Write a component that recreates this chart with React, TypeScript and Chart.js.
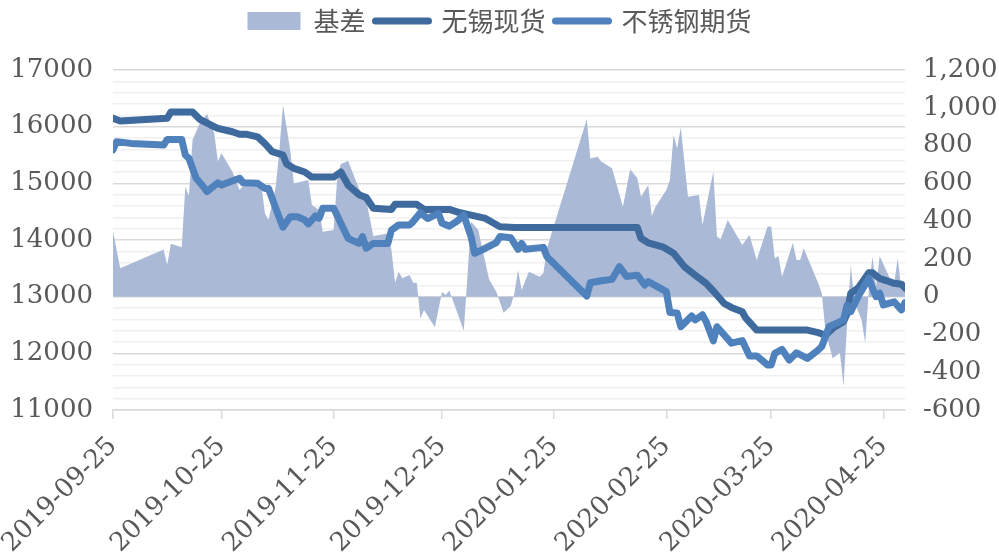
import React, { useEffect, useRef } from 'react';
import { Chart, registerables } from 'chart.js';

Chart.register(...registerables);

// ---------- data ----------
const originDate = '2019-09-25';
const endDate = '2020-05-01';
const tickDates = ['2019-09-25', '2019-10-25', '2019-11-25', '2019-12-25', '2020-01-25', '2020-02-25', '2020-03-25', '2020-04-25'];

const seriesNames = ['基差', '无锡现货', '不锈钢期货'];

const spotDates = [
  '2019-09-25', '2019-09-27', '2019-10-10', '2019-10-11', '2019-10-17', '2019-10-19', '2019-10-22', '2019-10-24',
  '2019-10-28', '2019-10-30', '2019-11-01', '2019-11-04', '2019-11-06', '2019-11-08', '2019-11-11', '2019-11-12',
  '2019-11-14', '2019-11-17', '2019-11-19', '2019-11-25', '2019-11-27', '2019-11-29', '2019-12-02', '2019-12-04',
  '2019-12-06', '2019-12-11', '2019-12-12', '2019-12-18', '2019-12-20', '2019-12-27', '2019-12-30', '2020-01-02',
  '2020-01-06', '2020-01-10', '2020-01-14', '2020-02-17', '2020-02-18', '2020-02-20', '2020-02-24', '2020-02-27',
  '2020-03-01', '2020-03-04', '2020-03-07', '2020-03-09', '2020-03-12', '2020-03-14', '2020-03-17', '2020-03-18',
  '2020-03-21', '2020-04-04', '2020-04-07', '2020-04-09', '2020-04-11', '2020-04-14', '2020-04-15', '2020-04-16',
  '2020-04-18', '2020-04-21', '2020-04-22', '2020-04-24', '2020-04-26', '2020-04-28', '2020-04-30', '2020-05-01',
];
const spotValues = [
  16150, 16100, 16150, 16260, 16260, 16130, 16030, 15970,
  15910, 15865, 15865, 15820, 15700, 15560, 15500, 15340,
  15265, 15200, 15110, 15110, 15200, 14970, 14800, 14750,
  14560, 14540, 14630, 14630, 14540, 14540, 14480, 14440,
  14380, 14235, 14220, 14220, 14030, 13950, 13880, 13765,
  13530, 13380, 13235, 13100, 12880, 12810, 12735, 12620,
  12410, 12410, 12365, 12320, 12440, 12560, 12700, 13060,
  13150, 13420, 13420, 13320, 13280, 13235, 13220, 13150,
];

const futDates = [
  '2019-09-25', '2019-09-26', '2019-09-30', '2019-10-09', '2019-10-10', '2019-10-14', '2019-10-15', '2019-10-16',
  '2019-10-18', '2019-10-20', '2019-10-21', '2019-10-24', '2019-10-25', '2019-10-30', '2019-10-31', '2019-11-04',
  '2019-11-06', '2019-11-07', '2019-11-09', '2019-11-11', '2019-11-13', '2019-11-15', '2019-11-17', '2019-11-18',
  '2019-11-20', '2019-11-21', '2019-11-22', '2019-11-25', '2019-11-27', '2019-11-29', '2019-12-02', '2019-12-03',
  '2019-12-04', '2019-12-06', '2019-12-10', '2019-12-11', '2019-12-13', '2019-12-16', '2019-12-17', '2019-12-19',
  '2019-12-21', '2019-12-24', '2019-12-25', '2019-12-27', '2019-12-29', '2019-12-31', '2020-01-02', '2020-01-03',
  '2020-01-06', '2020-01-09', '2020-01-10', '2020-01-13', '2020-01-15', '2020-01-16', '2020-01-17', '2020-01-22',
  '2020-01-23', '2020-02-03', '2020-02-04', '2020-02-07', '2020-02-10', '2020-02-12', '2020-02-14', '2020-02-17',
  '2020-02-19', '2020-02-20', '2020-02-25', '2020-02-26', '2020-02-28', '2020-02-29', '2020-03-03', '2020-03-04',
  '2020-03-06', '2020-03-07', '2020-03-09', '2020-03-10', '2020-03-14', '2020-03-17', '2020-03-19', '2020-03-21',
  '2020-03-24', '2020-03-25', '2020-03-26', '2020-03-28', '2020-03-30', '2020-04-01', '2020-04-04', '2020-04-07',
  '2020-04-08', '2020-04-10', '2020-04-12', '2020-04-14', '2020-04-15', '2020-04-16', '2020-04-18', '2020-04-21',
  '2020-04-22', '2020-04-23', '2020-04-24', '2020-04-25', '2020-04-28', '2020-04-30', '2020-05-01',
];
const futValues = [
  15590, 15735, 15705, 15675, 15775, 15775, 15500, 15440,
  15090, 14940, 14855, 15010, 14970, 15090, 15010, 15000,
  14910, 14910, 14560, 14225, 14410, 14410, 14355, 14285,
  14425, 14385, 14560, 14560, 14295, 14030, 13940, 14060,
  13855, 13940, 13940, 14175, 14265, 14265, 14325, 14480,
  14380, 14470, 14295, 14245, 14325, 14440, 14060, 13765,
  13855, 13955, 14060, 14040, 13835, 13940, 13835, 13870,
  13705, 13010, 13245, 13280, 13305, 13530, 13355, 13380,
  13205, 13265, 13090, 12720, 12710, 12470, 12660, 12590,
  12680, 12560, 12220, 12470, 12180, 12225, 11955, 11955,
  11795, 11795, 12000, 12070, 11880, 12010, 11910, 12060,
  12120, 12470, 12530, 12590, 12850, 12735, 13000, 13325,
  13150, 13000, 13060, 12855, 12910, 12765, 12895,
];

const basisDates = [
  '2019-09-25', '2019-09-27', '2019-10-09', '2019-10-10', '2019-10-11', '2019-10-14', '2019-10-15', '2019-10-16',
  '2019-10-17', '2019-10-19', '2019-10-21', '2019-10-23', '2019-10-24', '2019-10-25', '2019-10-28', '2019-10-30',
  '2019-11-01', '2019-11-05', '2019-11-06', '2019-11-07', '2019-11-09', '2019-11-10', '2019-11-11', '2019-11-13',
  '2019-11-14', '2019-11-16', '2019-11-18', '2019-11-19', '2019-11-21', '2019-11-22', '2019-11-25', '2019-11-26',
  '2019-11-27', '2019-11-29', '2019-12-02', '2019-12-04', '2019-12-06', '2019-12-10', '2019-12-11', '2019-12-12',
  '2019-12-13', '2019-12-14', '2019-12-16', '2019-12-17', '2019-12-18', '2019-12-19', '2019-12-20', '2019-12-23',
  '2019-12-25', '2019-12-26', '2019-12-27', '2019-12-31', '2020-01-02', '2020-01-04', '2020-01-07', '2020-01-09',
  '2020-01-11', '2020-01-13', '2020-01-14', '2020-01-15', '2020-01-16', '2020-01-18', '2020-01-21', '2020-01-22',
  '2020-01-23', '2020-02-03', '2020-02-04', '2020-02-06', '2020-02-07', '2020-02-10', '2020-02-13', '2020-02-15',
  '2020-02-17', '2020-02-18', '2020-02-20', '2020-02-21', '2020-02-22', '2020-02-25', '2020-02-26', '2020-02-27',
  '2020-02-28', '2020-02-29', '2020-03-02', '2020-03-05', '2020-03-06', '2020-03-09', '2020-03-10', '2020-03-11',
  '2020-03-13', '2020-03-17', '2020-03-19', '2020-03-21', '2020-03-24', '2020-03-25', '2020-03-26', '2020-03-27',
  '2020-03-28', '2020-03-31', '2020-04-01', '2020-04-02', '2020-04-03', '2020-04-07', '2020-04-08', '2020-04-09',
  '2020-04-11', '2020-04-13', '2020-04-14', '2020-04-15', '2020-04-16', '2020-04-17', '2020-04-19', '2020-04-20',
  '2020-04-21', '2020-04-22', '2020-04-23', '2020-04-24', '2020-04-27', '2020-04-28', '2020-04-29', '2020-04-30',
  '2020-05-01',
];
const basisValues = [
  345, 150, 250, 168, 280, 261, 582, 533,
  829, 918, 967, 865, 715, 759, 662, 565,
  609, 591, 441, 406, 582, 776, 1015, 776,
  600, 609, 618, 485, 459, 344, 353, 627,
  702, 718, 574, 512, 321, 335, 247, 74,
  132, 97, 115, 74, 74, -115, -71, -162,
  26, 9, 32, -180, 397, 353, 91, 26,
  -85, -49, 20, 141, 35, 132, 106, 124,
  256, 939, 732, 741, 715, 680, 476, 674,
  627, 529, 591, 427, 476, 565, 618, 856,
  785, 897, 529, 538, 379, 662, 318, 304,
  406, 274, 326, 194, 371, 371, 203, 215,
  106, 286, 194, 194, 256, 71, 18, -185,
  -326, -297, -473, -141, 168, -26, -124, -244,
  35, 212, 53, 215, 88, 71, 203, 35,
  26,
];

// ---------- helpers ----------
function dayOffset(s: string): number {
  const [y, m, d] = s.split('-').map(Number);
  const [y0, m0, d0] = originDate.split('-').map(Number);
  return Math.round((Date.UTC(y, m - 1, d) - Date.UTC(y0, m0 - 1, d0)) / 86400000);
}
function toPoints(dates: string[], values: number[]) {
  return dates.map((d, i) => ({ x: dayOffset(d), y: values[i] }));
}

const AREA_COLOR = '#aab9d6';
const SPOT_COLOR = '#3e6a9e';
const FUT_COLOR = '#4f81bd';
const TEXT_COLOR = '#595959';
const TICK_FONT = { family: "'DejaVu Serif', serif", size: 26 };

export default function App() {
  const canvasRef = useRef<HTMLCanvasElement | null>(null);

  useEffect(() => {
    document.body.style.margin = '0';
    const canvas = canvasRef.current;
    if (!canvas) return;

    const chart = new Chart(canvas, {
      type: 'line',
      data: {
        datasets: [
          {
            label: seriesNames[0],
            data: toPoints(basisDates, basisValues),
            yAxisID: 'y1',
            fill: 'origin',
            backgroundColor: AREA_COLOR,
            borderColor: AREA_COLOR,
            borderWidth: 0,
            pointRadius: 0,
            tension: 0,
            order: 3,
          },
          {
            label: seriesNames[1],
            data: toPoints(spotDates, spotValues),
            yAxisID: 'y',
            fill: false,
            borderColor: SPOT_COLOR,
            backgroundColor: SPOT_COLOR,
            borderWidth: 7,
            borderCapStyle: 'round',
            borderJoinStyle: 'round',
            pointRadius: 0,
            tension: 0,
            order: 2,
          },
          {
            label: seriesNames[2],
            data: toPoints(futDates, futValues),
            yAxisID: 'y',
            fill: false,
            borderColor: FUT_COLOR,
            backgroundColor: FUT_COLOR,
            borderWidth: 7,
            borderCapStyle: 'round',
            borderJoinStyle: 'round',
            pointRadius: 0,
            tension: 0,
            order: 1,
          },
        ],
      },
      options: {
        animation: false,
        responsive: false,
        devicePixelRatio: 1,
        layout: { padding: { top: -2, left: 0, right: 0, bottom: 0 } },
        plugins: {
          tooltip: { enabled: false },
          title: {
            display: true,
            text: '',
            weight: 500,
            padding: { top: 26, bottom: 0 },
            font: { size: 10, lineHeight: '0px' },
          } as any,
          legend: {
            display: true,
            position: 'top',
            labels: {
              usePointStyle: true,
              pointStyleWidth: 53,
              boxHeight: 18,
              padding: 10,
              color: TEXT_COLOR,
              font: { family: "'Noto Sans CJK SC', sans-serif", size: 26 },
              generateLabels: () => [
                { text: seriesNames[0], fillStyle: AREA_COLOR, strokeStyle: AREA_COLOR, lineWidth: 0, pointStyle: 'rect', datasetIndex: 0, hidden: false, fontColor: TEXT_COLOR },
                { text: seriesNames[1], fillStyle: SPOT_COLOR, strokeStyle: SPOT_COLOR, lineWidth: 7, lineCap: 'round', pointStyle: 'line', datasetIndex: 1, hidden: false, fontColor: TEXT_COLOR },
                { text: seriesNames[2], fillStyle: FUT_COLOR, strokeStyle: FUT_COLOR, lineWidth: 7, lineCap: 'round', pointStyle: 'line', datasetIndex: 2, hidden: false, fontColor: TEXT_COLOR },
              ] as any,
            },
          },
        },
        scales: {
          x: {
            type: 'linear',
            min: 0,
            max: dayOffset(endDate),
            afterBuildTicks: (scale: any) => {
              scale.ticks = tickDates.map((d) => ({ value: dayOffset(d) }));
            },
            afterFit: (scale: any) => {
              scale.height = 149;
              scale.paddingLeft = 0;
              scale.paddingRight = 0;
            },
            ticks: {
              autoSkip: false,
              minRotation: 45,
              maxRotation: 45,
              padding: 12,
              color: TEXT_COLOR,
              font: TICK_FONT,
              callback: (_v: any, i: number) => tickDates[i],
            },
            grid: {
              drawOnChartArea: false,
              drawTicks: true,
              tickLength: 9,
              color: '#d9d9d9',
              lineWidth: 1.5,
            },
            border: { display: true, color: '#d9d9d9', width: 1.5 },
          },
          y: {
            type: 'linear',
            position: 'left',
            min: 11000,
            max: 17000,
            afterFit: (scale: any) => {
              scale.width = 113;
            },
            ticks: {
              stepSize: 200,
              autoSkip: false,
              padding: 20,
              color: TEXT_COLOR,
              font: TICK_FONT,
              callback: (v: any) => (Number(v) % 1000 === 0 ? String(v) : ''),
            },
            grid: {
              drawTicks: false,
              lineWidth: 1.5,
              color: (ctx: any) => (ctx.tick && ctx.tick.value % 1000 === 0 ? '#d9d9d9' : '#f0f0f0'),
            },
            border: { display: false },
          },
          y1: {
            type: 'linear',
            position: 'right',
            min: -600,
            max: 1200,
            afterFit: (scale: any) => {
              scale.width = 94;
            },
            ticks: {
              stepSize: 200,
              autoSkip: false,
              padding: 18,
              color: TEXT_COLOR,
              font: TICK_FONT,
              callback: (v: any) => Number(v).toLocaleString('en-US'),
            },
            grid: { drawOnChartArea: false, drawTicks: false },
            border: { display: false },
          },
        },
      } as any,
    });

    return () => {
      chart.destroy();
    };
  }, []);

  return (
    <div style={{ width: 999, height: 559, background: '#ffffff' }}>
      <canvas ref={canvasRef} width={999} height={559} style={{ display: 'block', width: 999, height: 559 }} />
    </div>
  );
}
